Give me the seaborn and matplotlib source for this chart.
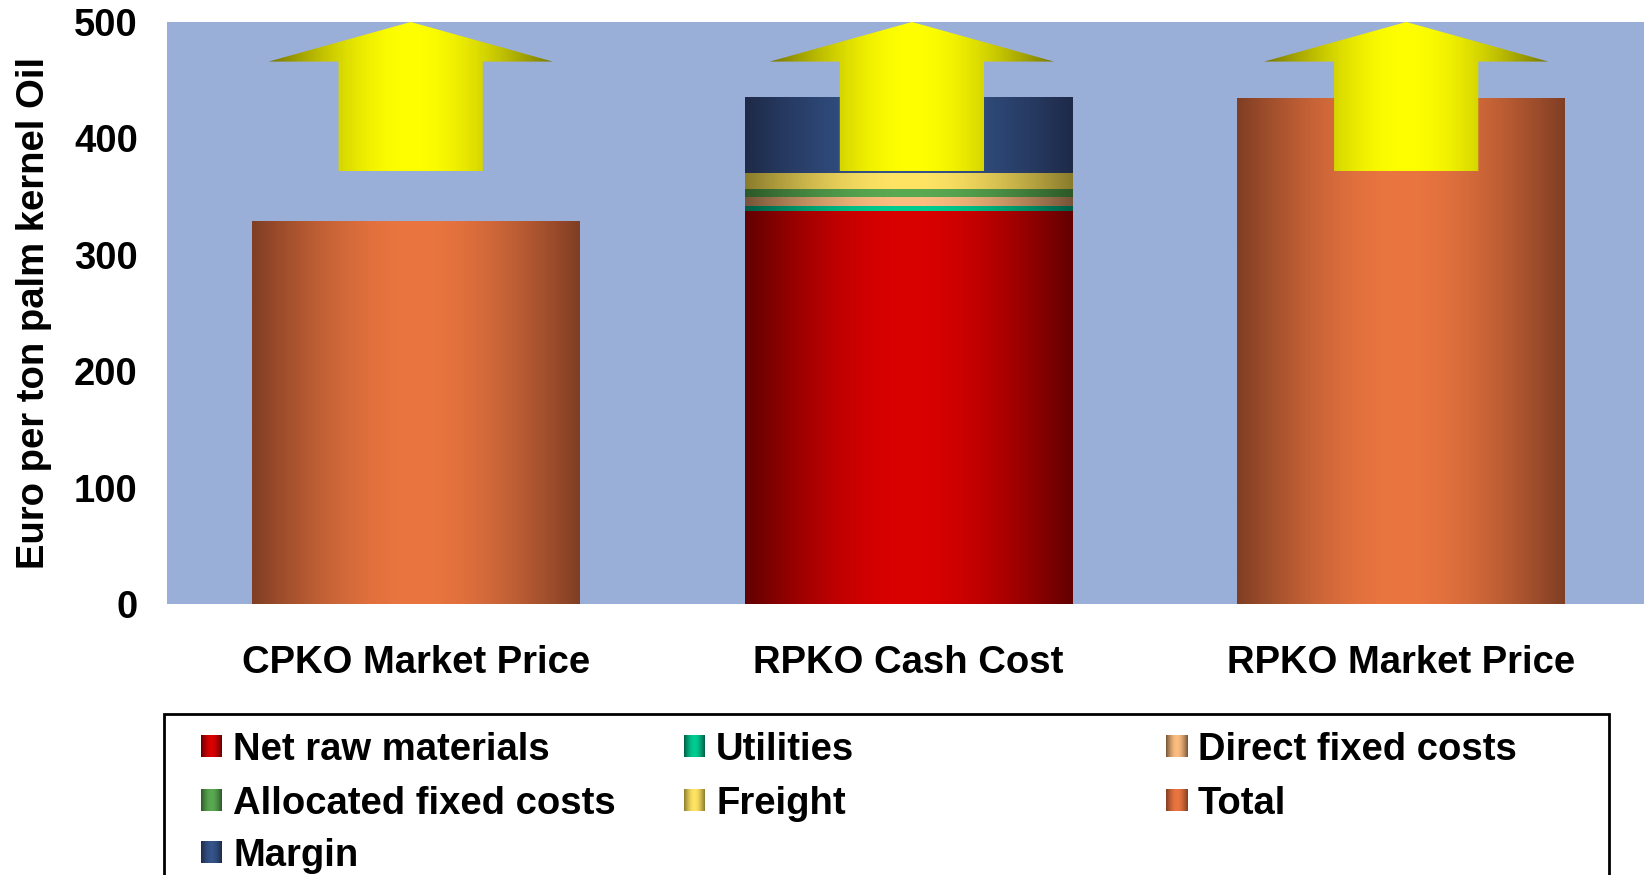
import numpy as np
import matplotlib
matplotlib.use("Agg")
import matplotlib.pyplot as plt
import seaborn as sns
from matplotlib.patches import FancyArrow, Rectangle

# ---- data -------------------------------------------------------------
products = ["CPKO Market Price", "RPKO Cash Cost", "RPKO Market Price"]

net_raw_materials = [0, 337.0, 0]
utilities = [0, 4.5, 0]
direct_fixed_costs = [0, 7.0, 0]
allocated_fixed_costs = [0, 7.0, 0]
freight = [0, 14.0, 0]
total = [329.0, 0, 434.0]
margin = [0, 65.5, 0]

series_names = ["Net raw materials", "Utilities", "Direct fixed costs",
                "Allocated fixed costs", "Freight", "Total", "Margin"]
series_values = [net_raw_materials, utilities, direct_fixed_costs,
                 allocated_fixed_costs, freight, total, margin]

y_ticks = [0, 100, 200, 300, 400, 500]
y_label = "Euro per ton palm kernel Oil"

# ---- styling ----------------------------------------------------------
# (edge colour, centre colour) of each horizontal shading ramp
shades = {
    "Net raw materials": ((98, 0, 0), (218, 0, 0)),
    "Utilities": ((0, 92, 68), (0, 205, 145)),
    "Direct fixed costs": ((118, 84, 56), (252, 190, 128)),
    "Allocated fixed costs": ((44, 88, 40), (90, 170, 82)),
    "Freight": ((138, 124, 44), (255, 228, 100)),
    "Total": ((128, 62, 36), (234, 117, 64)),
    "Margin": ((30, 42, 72), (52, 84, 138)),
}
arrow_shade = ((118, 118, 0), (255, 255, 0))
plot_bg = "#9AAFD8"

sns.set_style("white")
plt.rcParams["font.family"] = ["Liberation Sans", "DejaVu Sans"]
plt.rcParams["font.weight"] = "bold"
plt.rcParams["axes.labelweight"] = "bold"
plt.rcParams["text.color"] = "black"
plt.rcParams["axes.labelcolor"] = "black"
plt.rcParams["xtick.color"] = "black"
plt.rcParams["ytick.color"] = "black"
FS = 27.5


def ramp(edge, center, n=256):
    t = np.linspace(0.0, 1.0, n)
    w = np.sin(np.pi * t)[:, None]
    e = np.array(edge, float) / 255.0
    c = np.array(center, float) / 255.0
    return (e[None, :] + (c - e)[None, :] * w)[None, :, :]


W, H = 1644, 875
fig = plt.figure(figsize=(W / 100, H / 100), dpi=100)
ax = fig.add_axes([167 / W, 1 - 604 / H, (W - 167) / W, (604 - 22) / H])
ax.set_facecolor(plot_bg)

# ---- stacked bars: cumulative layers drawn from the top layer downwards
cum = np.cumsum(np.array(series_values, float), axis=0)
bar_width = 0.666
layer_z = 2
for k in range(len(series_names) - 1, -1, -1):
    name = series_names[k]
    sns.barplot(x=products, y=cum[k], color=np.array(shades[name][1]) / 255,
                saturation=1, width=bar_width, errorbar=None, ax=ax,
                linewidth=0, zorder=layer_z)
    cont = ax.containers[-1]
    for j, patch in enumerate(cont.patches):
        value = series_values[k][j]
        patch.set_facecolor("none")
        if value <= 0:
            continue
        x0 = patch.get_x()
        top = patch.get_y() + patch.get_height()
        ax.imshow(ramp(*shades[name]), extent=(x0, x0 + patch.get_width(), top - value, top),
                  aspect="auto", interpolation="bilinear", zorder=layer_z + 0.5)
    layer_z += 1

# ---- up arrows above each bar
arrow_tail, arrow_tip, arrow_head_len = 372.0, 500.0, 34.0
shaft_w, head_w = 0.293, 0.577
arrow_shift = [-0.011, 0.007, 0.011]
for j in range(len(products)):
    cx = j + arrow_shift[j]
    arr = FancyArrow(cx, arrow_tail, 0, arrow_tip - arrow_tail, width=shaft_w,
                     head_width=head_w, head_length=arrow_head_len,
                     length_includes_head=True, facecolor="none",
                     edgecolor="none", zorder=20)
    ax.add_patch(arr)
    im = ax.imshow(ramp(*arrow_shade), extent=(cx - head_w / 2, cx + head_w / 2, arrow_tail, arrow_tip),
                   aspect="auto", interpolation="bilinear", zorder=21)
    im.set_clip_path(arr)

# ---- axes
ax.set_xlim(-0.506, 2.494)
ax.set_ylim(0, 500)
ax.set_yticks(y_ticks)
ax.set_yticklabels([str(v) for v in y_ticks])
for s in ax.spines.values():
    s.set_visible(False)
ax.tick_params(axis="y", length=0, pad=21, labelsize=FS, colors="black")
ax.tick_params(axis="x", length=0, pad=29.5, labelsize=FS, colors="black")
ax.set_ylabel(y_label, fontsize=FS, color="black")
ax.yaxis.set_label_coords(-0.078, 0.5)
ax.set_xlabel("")

# ---- legend box with three columns
fig.add_artist(Rectangle((164 / W, -0.1), (1609 - 164) / W, 1 - 714 / H + 0.1,
                         transform=fig.transFigure, facecolor="white",
                         edgecolor="black", linewidth=2, zorder=0))
col_x = [201, 684, 1166]
row_base = [760, 814, 866]
sw_w, sw_h = 21, 22
for i, name in enumerate(series_names):
    r, c = divmod(i, 3)
    x, yb = col_x[c], row_base[r]
    sw = fig.add_axes([x / W, 1 - (yb - 3) / H, sw_w / W, sw_h / H])
    sw.imshow(ramp(*shades[name]), aspect="auto", interpolation="bilinear")
    sw.set_axis_off()
    fig.text((x + sw_w + 11) / W, 1 - yb / H, name, fontsize=FS,
             fontweight="bold", ha="left", va="baseline", color="black")

fig.savefig("out.png", dpi=100)
